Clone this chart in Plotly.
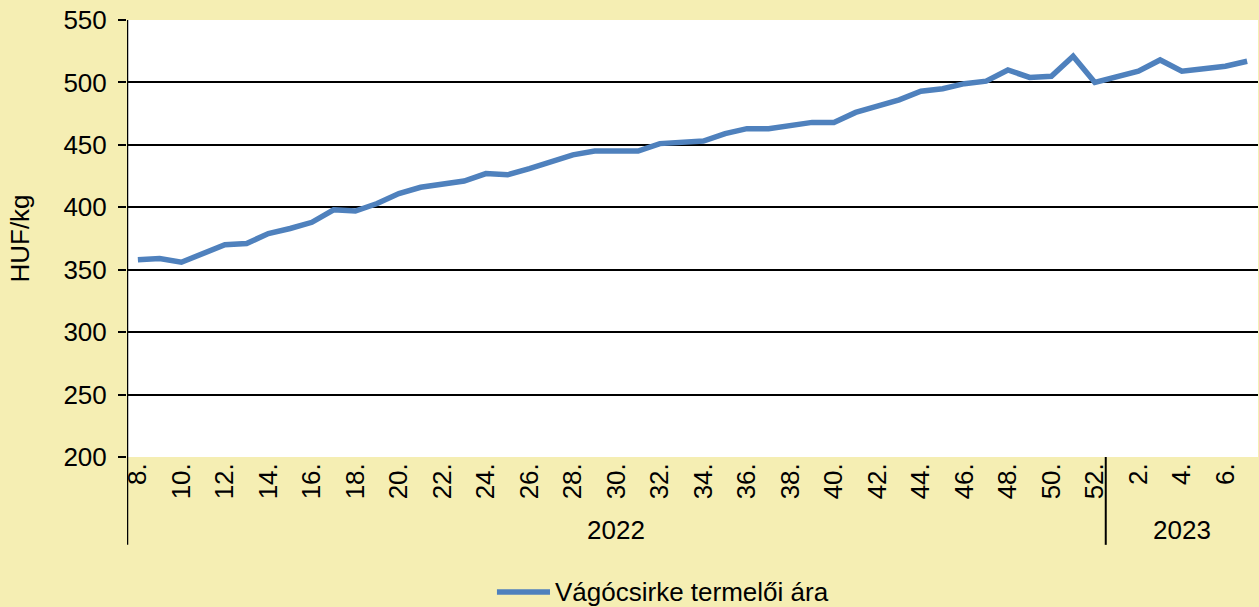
import plotly.graph_objects as go

years = ["2022"] * 45 + ["2023"] * 7
weeks = list(range(8, 53)) + list(range(1, 8))
prices = [358, 359, 356, 363, 370, 371, 379, 383, 388, 398,
          397, 403, 411, 416, 418, 421, 427, 426, 431, 437,
          442, 445, 445, 445, 451, 452, 453, 459, 463, 463,
          465, 468, 468, 476, 481, 486, 493, 495, 499, 501,
          510, 504, 505, 521, 500, 504, 509, 518, 509, 511,
          513, 517]
series_name = "Vágócsirke termelői ára"
y_title = "HUF/kg"

x = list(range(len(weeks)))
tickvals = [i for i, w in enumerate(weeks) if w % 2 == 0]
ticktext = [f"{weeks[i]}." for i in tickvals]

FONT = "Liberation Sans, Arial, sans-serif"
FS = 26
LINE_COLOR = "#4F81BD"

fig = go.Figure()
fig.add_trace(go.Scatter(
    x=x, y=prices, mode="lines", name=series_name, showlegend=False,
    line=dict(color=LINE_COLOR, width=5.5),
))

# year group labels and divider
groups = []
for i, yr in enumerate(years):
    if not groups or groups[-1][0] != yr:
        groups.append([yr, i, i])
    else:
        groups[-1][2] = i
for yr, a, b in groups:
    fig.add_annotation(x=(a + b) / 2, y=-0.167, xref="x", yref="paper",
                       text=yr, showarrow=False, yanchor="middle",
                       font=dict(size=FS, color="black", family=FONT))
for yr, a, b in groups[1:]:
    fig.add_shape(type="line", xref="x", yref="paper", x0=a - 0.5, x1=a - 0.5,
                  y0=0, y1=-0.201, line=dict(color="black", width=2))
fig.add_shape(type="line", xref="x", yref="paper", x0=-0.5, x1=-0.5,
              y0=1, y1=-0.201, line=dict(color="black", width=2.5))

# legend (drawn manually so it does not push the margins)
fig.add_shape(type="line", xref="paper", yref="paper", x0=0.3271, x1=0.374,
              y0=-0.309, y1=-0.309, line=dict(color=LINE_COLOR, width=5.5))
fig.add_annotation(x=0.3767, y=-0.309, xref="paper", yref="paper",
                   text=series_name, showarrow=False, xanchor="left",
                   yanchor="middle", font=dict(size=FS, color="black", family=FONT))

fig.update_layout(
    width=1259, height=607,
    paper_bgcolor="#F5EEB3", plot_bgcolor="white",
    margin=dict(l=127, r=1, t=20, b=150),
    font=dict(family=FONT, size=FS, color="black"),
    showlegend=False,
    xaxis=dict(range=[-0.5, len(x) - 0.5], tickvals=tickvals, ticktext=ticktext,
               tickangle=-90, showgrid=False, zeroline=False, ticks="",
               showline=False, automargin=False,
               tickfont=dict(size=FS, family=FONT)),
    yaxis=dict(range=[200, 550], dtick=50, showgrid=True, gridcolor="black",
               gridwidth=2.2, zeroline=False, ticks="outside", ticklen=8,
               tickcolor="black", tickwidth=2, showline=False, automargin=False,
               ticklabelstandoff=6,
               title=dict(text=y_title, standoff=26, font=dict(size=FS, family=FONT)),
               tickfont=dict(size=FS, family=FONT)),
)

fig.write_html("out.html", config={"displayModeBar": False},
               post_script="document.body.style.margin='0';")
